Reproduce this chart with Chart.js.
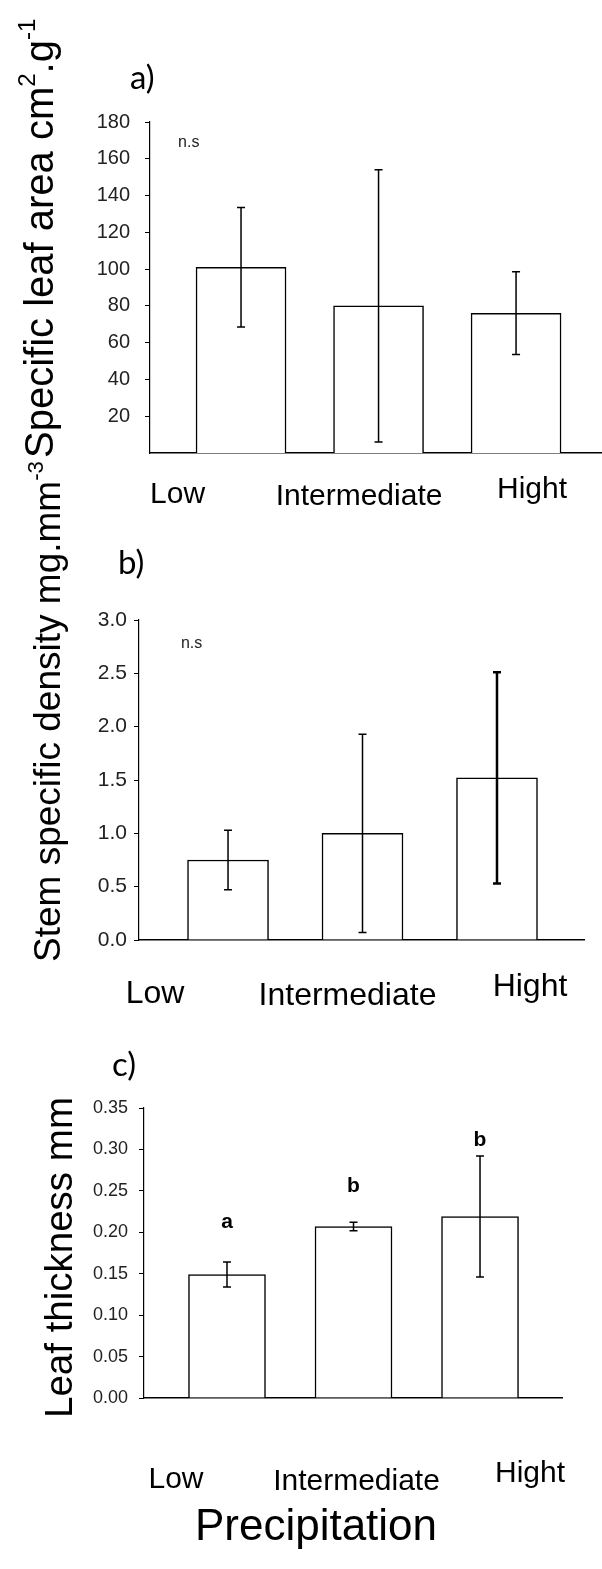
<!DOCTYPE html>
<html>
<head>
<meta charset="utf-8">
<script src="https://cdn.jsdelivr.net/npm/chart.js@4.4.1/dist/chart.umd.min.js"></script>
<style>
  html, body { margin: 0; padding: 0; background: #fff; }
  #wrap { position: relative; width: 602px; height: 1569px; }
  #wrap canvas { position: absolute; left: 0; top: 0; }
</style>
</head>
<body>
<div id="wrap">
  <canvas id="chartA" width="602" height="1569"></canvas>
  <canvas id="chartB" width="602" height="1569"></canvas>
  <canvas id="chartC" width="602" height="1569"></canvas>
</div>
<script>
const categories = ['Low', 'Intermediate', 'Hight'];

// a) specific leaf area
const slaMean = [101, 80, 76];
const slaErr = [32.5, 74, 22.5];

// b) stem specific density
const ssdMean = [0.75, 1.0, 1.52];
const ssdErr = [0.28, 0.93, 0.99];

// c) leaf thickness
const ltMean = [0.149, 0.207, 0.219];
const ltErr = [0.015, 0.005, 0.073];
const ltLetters = ['a', 'b', 'b'];

const FONT = "'Liberation Sans', Arial, sans-serif";
const W = 602, H = 1569;

Chart.defaults.font.family = FONT;
Chart.defaults.color = '#222';

// mean +/- error whiskers, placed on the drawn bars
const errorBars = {
    id: 'errorBars',
    afterDatasetsDraw(chart, args, o) {
        const ctx = chart.ctx;
        const y = chart.scales.y;
        const meta = chart.getDatasetMeta(0);
        ctx.save();
        ctx.strokeStyle = '#000';
        o.means.forEach((m, i) => {
            const px = meta.data[i].x;
            const top = y.getPixelForValue(m + o.errs[i]);
            const bot = y.getPixelForValue(m - o.errs[i]);
            ctx.lineWidth = o.widths[i];
            ctx.beginPath();
            ctx.moveTo(px, top); ctx.lineTo(px, bot);
            ctx.moveTo(px - 4, top); ctx.lineTo(px + 4, top);
            ctx.moveTo(px - 4, bot); ctx.lineTo(px + 4, bot);
            ctx.stroke();
        });
        ctx.restore();
    }
};

function drawRich(ctx, parts, size) {
    let x = 0;
    parts.forEach(([t, sup]) => {
        const s = sup ? size * 0.6 : size;
        ctx.font = s + 'px ' + FONT;
        ctx.fillText(t, x, sup ? -size * 0.45 : 0);
        x += ctx.measureText(t).width;
    });
}

const panelText = {
    id: 'panelText',
    afterDraw(chart, args, o) {
        const {ctx, chartArea} = chart;
        const meta = chart.getDatasetMeta(0);
        const y = chart.scales.y;
        const x = chart.scales.x;
        ctx.save();
        ctx.fillStyle = '#000';

        ctx.font = o.catSize + 'px ' + FONT;
        ctx.textAlign = 'center';
        ctx.textBaseline = 'alphabetic';
        categories.forEach((c, i) => {
            ctx.fillText(c, meta.data[i].x + o.catDx[i], chartArea.bottom + o.catDy[i]);
        });

        ctx.font = o.tagSize + 'px Lato';
        ctx.textAlign = 'left';
        ctx.textBaseline = 'middle';
        ctx.fillText(o.tag, o.tagX, o.tagY);

        if (o.ns) {
            ctx.font = '16px ' + FONT;
            ctx.fillStyle = '#222';
            ctx.fillText('n.s', x.getPixelForValue(o.ns[0]), y.getPixelForValue(o.ns[1]));
            ctx.fillStyle = '#000';
        }

        if (o.letters) {
            ctx.font = 'bold 21px ' + FONT;
            ctx.textAlign = 'center';
            ctx.textBaseline = 'alphabetic';
            o.letters.forEach((l, i) => {
                ctx.fillText(l, meta.data[i].x, y.getPixelForValue(o.letterAt[i]));
            });
        }

        if (o.xTitle) {
            ctx.font = '44px ' + FONT;
            ctx.textAlign = 'center';
            ctx.textBaseline = 'alphabetic';
            ctx.fillText(o.xTitle, o.xTitleX, o.xTitleY);
        }

        ctx.textAlign = 'left';
        ctx.textBaseline = 'alphabetic';
        ctx.translate(o.titleX, o.titleY);
        ctx.rotate(-Math.PI / 2);
        drawRich(ctx, o.title, o.titleSize);
        ctx.restore();
    }
};

function makePanel(p) {
    const points = p.means.map((m, i) => ({ x: i + 1, y: m }));
    return new Chart(document.getElementById(p.id), {
        type: 'bar',
        data: {
            datasets: [{
                data: points,
                backgroundColor: '#fff',
                borderColor: '#000',
                borderWidth: 1.5,
                barThickness: p.barWidth
            }]
        },
        options: {
            responsive: false,
            animation: false,
            events: [],
            layout: {
                padding: { left: 0, top: p.area.top, right: W - p.area.right, bottom: H - p.area.bottom }
            },
            plugins: {
                legend: { display: false },
                tooltip: { enabled: false },
                errorBars: { means: p.means, errs: p.errs, widths: p.errWidths },
                panelText: p.text
            },
            scales: {
                x: {
                    type: 'linear',
                    min: p.xMin,
                    max: p.xMax,
                    offset: false,
                    grid: { display: false },
                    ticks: { display: false },
                    border: { display: true, color: '#000', width: 1.5 },
                    afterFit: s => { s.height = 0; }
                },
                y: {
                    min: 0,
                    max: p.yMax,
                    ticks: {
                        stepSize: p.yStep,
                        padding: p.tickPad,
                        color: '#222',
                        font: { size: p.tickSize },
                        callback: v => Number(v).toFixed(p.decimals)
                    },
                    grid: { drawOnChartArea: false, drawTicks: true, tickLength: 5, color: '#000' },
                    border: { display: true, color: '#000', width: 1.2 },
                    afterFit: s => { s.width = p.area.left; },
                    afterBuildTicks: s => {
                        if (p.hideZero) s.ticks = s.ticks.filter(t => t.value !== 0);
                    }
                }
            }
        },
        plugins: [errorBars, panelText]
    });
}

makePanel({
    id: 'chartA', means: slaMean, errs: slaErr, errWidths: [1.5, 1.5, 1.5],
    yMax: 180, yStep: 20, decimals: 0, hideZero: true,
    area: { left: 150, top: 122, bottom: 453, right: 602 },
    xMin: 0.338, xMax: 3.625, barWidth: 90,
    tickSize: 20, tickPad: 15,
    text: {
        catSize: 30, catDx: [-63.5, -19.5, 16], catDy: [50, 52, 45],
        tag: 'a)', tagSize: 33, tagX: 130, tagY: 78,
        ns: [0.542, 169],
        title: [['Specific leaf area cm'], ['2', 1], ['.g'], ['-1', 1]],
        titleSize: 40, titleX: 53, titleY: 458
    }
});

makePanel({
    id: 'chartB', means: ssdMean, errs: ssdErr, errWidths: [1.5, 1.5, 2.5],
    yMax: 3, yStep: 0.5, decimals: 1,
    area: { left: 139, top: 620, bottom: 940, right: 584 },
    xMin: 0.338, xMax: 3.647, barWidth: 81,
    tickSize: 21, tickPad: 7,
    text: {
        catSize: 32, catDx: [-73, -15, 33], catDy: [63, 65, 56],
        tag: 'b)', tagSize: 33, tagX: 118, tagY: 563,
        ns: [0.65, 2.78],
        title: [['Stem specific density mg.mm'], ['-3', 1]],
        titleSize: 37, titleX: 60, titleY: 962
    }
});

makePanel({
    id: 'chartC', means: ltMean, errs: ltErr, errWidths: [1.5, 1.5, 1.5],
    yMax: 0.35, yStep: 0.05, decimals: 2,
    area: { left: 144, top: 1108, bottom: 1398, right: 562 },
    xMin: 0.344, xMax: 3.648, barWidth: 77,
    tickSize: 18, tickPad: 11,
    text: {
        catSize: 30, catDx: [-51, 3, 50], catDy: [90, 92, 84],
        tag: 'c)', tagSize: 33, tagX: 112, tagY: 1065,
        letters: ltLetters, letterAt: [0.205, 0.249, 0.304],
        xTitle: 'Precipitation', xTitleX: 316, xTitleY: 1540,
        title: [['Leaf thickness mm']],
        titleSize: 38.5, titleX: 72, titleY: 1418
    }
});
</script>
</body>
</html>
